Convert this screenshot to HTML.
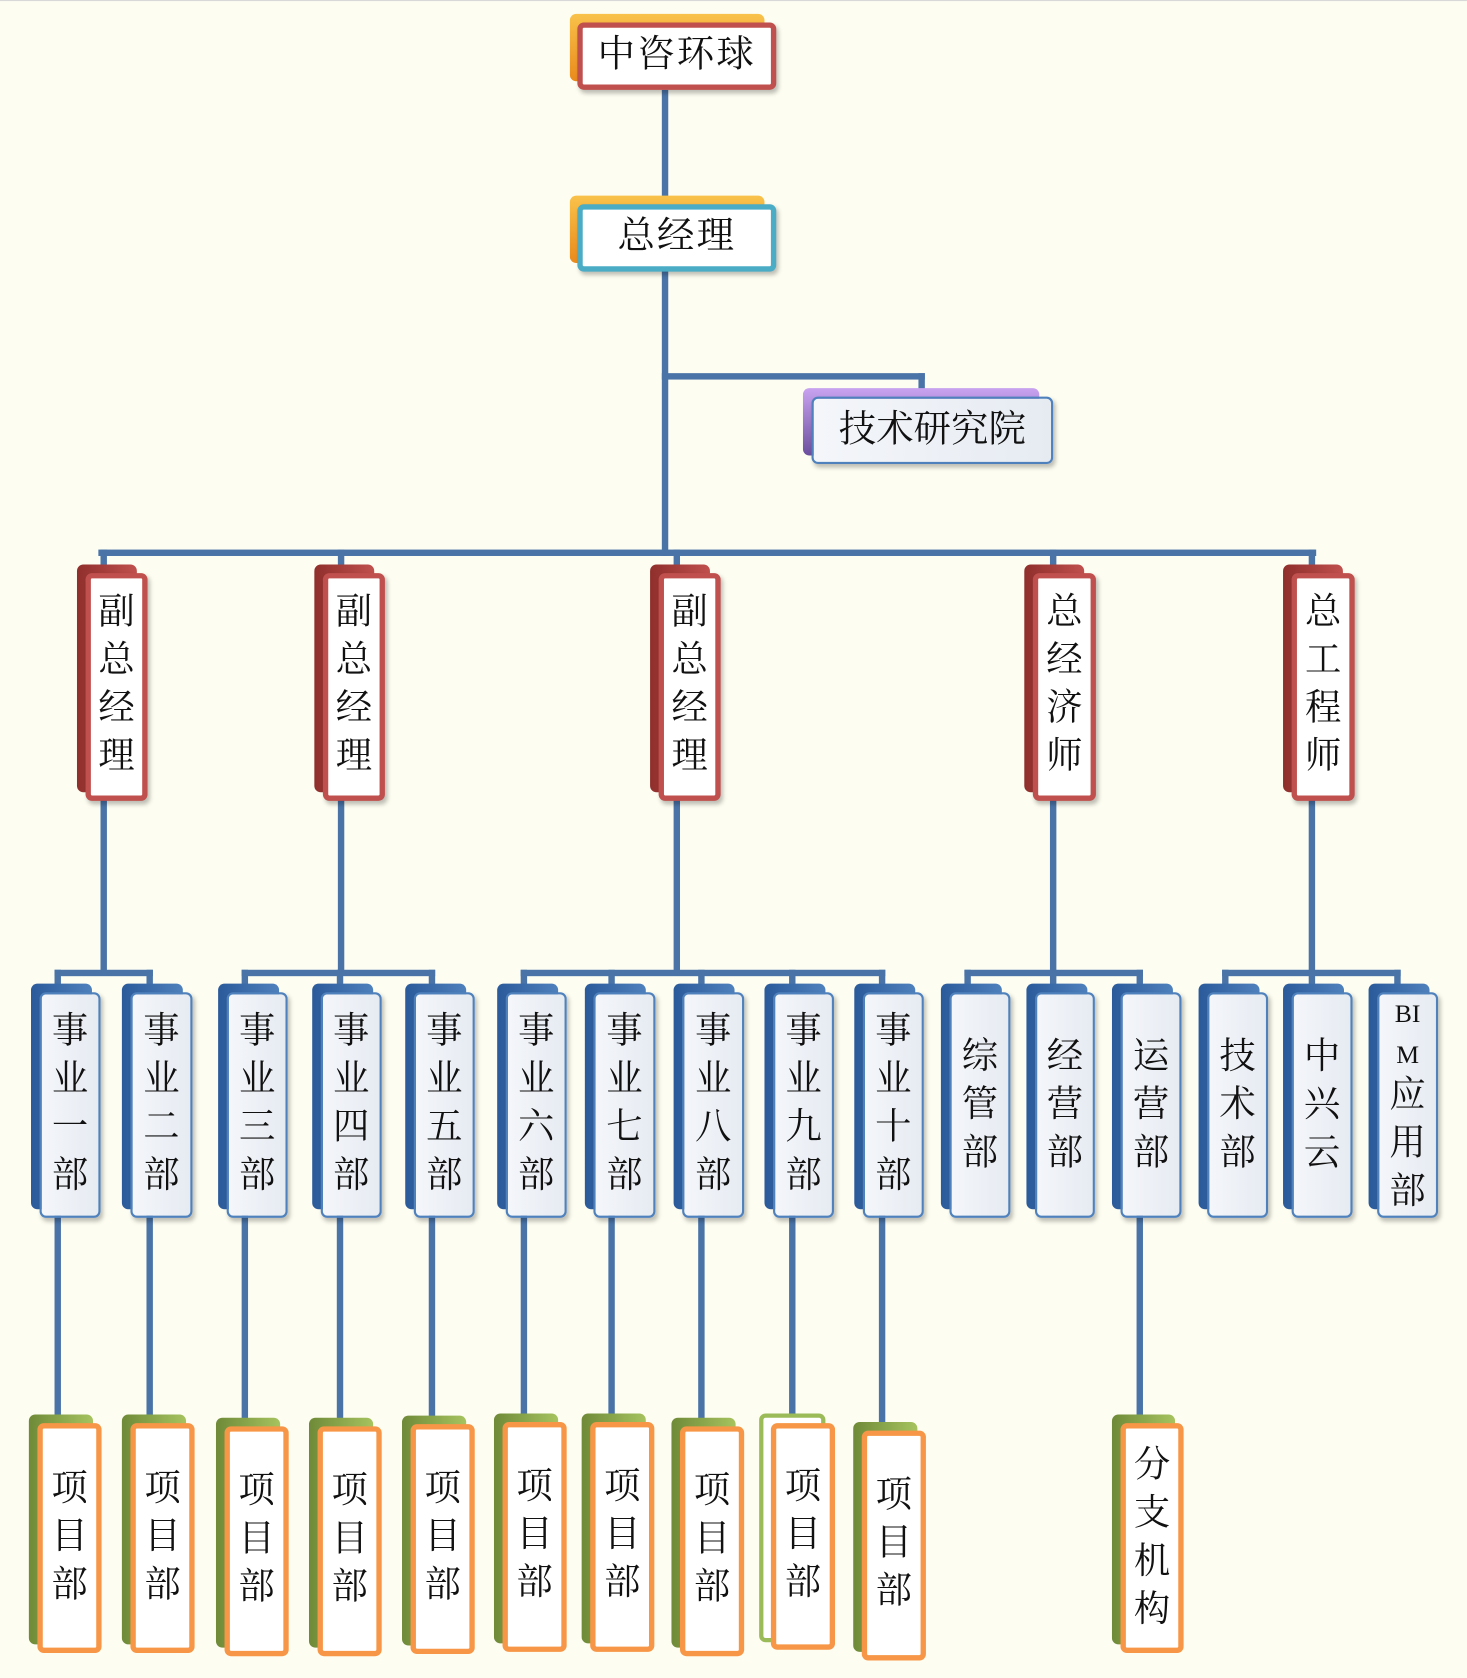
<!DOCTYPE html>
<html><head><meta charset="utf-8"><style>
html,body{margin:0;padding:0;background:#fdfdf1;}
#w{position:absolute;left:0;top:0;width:1372px;height:1568px;transform:scale(1.0692);transform-origin:0 0;background:#fdfdf1;border-top:1px solid #d8d8d8;font-family:"Liberation Serif","Noto Serif CJK SC",serif;color:#111;}
.l{position:absolute;background:#4a74a8;}
.s{position:absolute;background:#4a74a8;top:906px;width:6px;height:18px;}
.b{position:absolute;box-sizing:border-box;border-radius:6px;}
.t{position:absolute;text-align:center;line-height:45px;font-size:34px;}
.red{background:linear-gradient(90deg,#8f2f2c,#c0504d);}
.redf{background:#fff;border:5px solid #c0504d;box-shadow:2px 3px 4px rgba(0,0,0,.25);}
.blu{background:linear-gradient(90deg,#2b5a9a,#4f81bd);}
.bluf{background:linear-gradient(90deg,#f4f6fa,#e6ebf2);border:2px solid #4f81bd;box-shadow:2px 3px 4px rgba(0,0,0,.25);}
.grn{background:linear-gradient(90deg,#6f8a38,#a6c35f);}
.orf{background:#fff;border:5px solid #f79646;}
</style></head><body><div id="w">
<!-- connectors -->
<div class="l" style="left:619px;top:83px;width:6px;height:436px"></div>
<div class="l" style="left:619px;top:348px;width:246px;height:6px"></div>
<div class="l" style="left:859px;top:348px;width:6px;height:16px"></div>
<div class="l" style="left:92px;top:513px;width:1139px;height:6px"></div>
<div class="l" style="left:94px;top:513px;width:6px;height:16px"></div>
<div class="l" style="left:316px;top:513px;width:6px;height:16px"></div>
<div class="l" style="left:630px;top:513px;width:6px;height:16px"></div>
<div class="l" style="left:982px;top:513px;width:6px;height:16px"></div>
<div class="l" style="left:1224px;top:513px;width:6px;height:16px"></div>
<!-- L2 to bars -->
<div class="l" style="left:94px;top:745px;width:6px;height:166px"></div>
<div class="l" style="left:316px;top:745px;width:6px;height:166px"></div>
<div class="l" style="left:630px;top:745px;width:6px;height:166px"></div>
<div class="l" style="left:982px;top:745px;width:6px;height:166px"></div>
<div class="l" style="left:1224px;top:745px;width:6px;height:166px"></div>
<div class="l" style="left:51px;top:906px;width:92px;height:6px"></div>
<div class="l" style="left:226px;top:906px;width:181px;height:6px"></div>
<div class="l" style="left:487px;top:906px;width:341px;height:6px"></div>
<div class="l" style="left:902px;top:906px;width:167px;height:6px"></div>
<div class="l" style="left:1143px;top:906px;width:167px;height:6px"></div>
<!-- stubs -->
<div class="s" style="left:51px"></div><div class="s" style="left:137px"></div>
<div class="s" style="left:226px"></div><div class="s" style="left:315px"></div><div class="s" style="left:401px"></div>
<div class="s" style="left:487px"></div><div class="s" style="left:569px"></div><div class="s" style="left:653px"></div><div class="s" style="left:738px"></div><div class="s" style="left:822px"></div>
<div class="s" style="left:902px"></div><div class="s" style="left:982px"></div><div class="s" style="left:1063px"></div>
<div class="s" style="left:1143px"></div><div class="s" style="left:1224px"></div><div class="s" style="left:1304px"></div>
<!-- L3 to projects -->
<div class="l" style="left:51px;top:1130px;width:6px;height:200px"></div>
<div class="l" style="left:137px;top:1130px;width:6px;height:200px"></div>
<div class="l" style="left:226px;top:1130px;width:6px;height:200px"></div>
<div class="l" style="left:315px;top:1130px;width:6px;height:200px"></div>
<div class="l" style="left:401px;top:1130px;width:6px;height:200px"></div>
<div class="l" style="left:487px;top:1130px;width:6px;height:200px"></div>
<div class="l" style="left:569px;top:1130px;width:6px;height:200px"></div>
<div class="l" style="left:653px;top:1130px;width:6px;height:200px"></div>
<div class="l" style="left:738px;top:1130px;width:6px;height:200px"></div>
<div class="l" style="left:822px;top:1130px;width:6px;height:200px"></div>
<div class="l" style="left:1063px;top:1130px;width:6px;height:200px"></div>

<!-- top -->
<div class="b" style="left:533px;top:12px;width:182px;height:63px;background:linear-gradient(#f9c24a,#e98a1c)"></div>
<div class="b redf" style="left:540px;top:20px;width:186px;height:63px"></div>
<div class="t" style="left:540px;top:27px;width:186px;font-size:35px;letter-spacing:2px">中咨环球</div>
<div class="b" style="left:533px;top:182px;width:182px;height:63px;background:linear-gradient(#f9c24a,#e98a1c)"></div>
<div class="b" style="left:540px;top:190px;width:186px;height:63px;background:#fff;border:5px solid #4bacc6;box-shadow:2px 3px 4px rgba(0,0,0,.25)"></div>
<div class="t" style="left:540px;top:197px;width:186px;font-size:35px;letter-spacing:2px">总经理</div>
<div class="b" style="left:751px;top:362px;width:221px;height:63px;background:linear-gradient(#c9a3f0,#6b4f9e)"></div>
<div class="b bluf" style="left:759px;top:370px;width:226px;height:63px"></div>
<div class="t" style="left:759px;top:378px;width:226px;font-size:35px">技术研究院</div>

<!-- L2 -->
<div class="b red" style="left:72px;top:527px;width:56px;height:213px"></div>
<div class="b redf" style="left:80px;top:535px;width:58px;height:213px"></div>
<div class="t" style="left:80px;top:549px;width:58px">副<br>总<br>经<br>理</div>
<div class="b red" style="left:294px;top:527px;width:56px;height:213px"></div>
<div class="b redf" style="left:302px;top:535px;width:58px;height:213px"></div>
<div class="t" style="left:302px;top:549px;width:58px">副<br>总<br>经<br>理</div>
<div class="b red" style="left:608px;top:527px;width:56px;height:213px"></div>
<div class="b redf" style="left:616px;top:535px;width:58px;height:213px"></div>
<div class="t" style="left:616px;top:549px;width:58px">副<br>总<br>经<br>理</div>
<div class="b red" style="left:958px;top:527px;width:56px;height:213px"></div>
<div class="b redf" style="left:966px;top:535px;width:59px;height:213px"></div>
<div class="t" style="left:966px;top:549px;width:59px">总<br>经<br>济<br>师</div>
<div class="b red" style="left:1200px;top:527px;width:56px;height:213px"></div>
<div class="b redf" style="left:1208px;top:535px;width:59px;height:213px"></div>
<div class="t" style="left:1208px;top:549px;width:59px">总<br>工<br>程<br>师</div>

<!-- L3 -->
<div class="b blu" style="left:29px;top:919px;width:57px;height:211px"></div><div class="b bluf" style="left:37px;top:927px;width:57px;height:211px"></div><div class="t" style="left:37px;top:941px;width:57px">事<br>业<br>一<br>部</div>
<div class="b blu" style="left:114px;top:919px;width:57px;height:211px"></div><div class="b bluf" style="left:122px;top:927px;width:58px;height:211px"></div><div class="t" style="left:122px;top:941px;width:58px">事<br>业<br>二<br>部</div>
<div class="b blu" style="left:204px;top:919px;width:57px;height:211px"></div><div class="b bluf" style="left:212px;top:927px;width:57px;height:211px"></div><div class="t" style="left:212px;top:941px;width:57px">事<br>业<br>三<br>部</div>
<div class="b blu" style="left:292px;top:919px;width:57px;height:211px"></div><div class="b bluf" style="left:300px;top:927px;width:57px;height:211px"></div><div class="t" style="left:300px;top:941px;width:57px">事<br>业<br>四<br>部</div>
<div class="b blu" style="left:379px;top:919px;width:57px;height:211px"></div><div class="b bluf" style="left:387px;top:927px;width:57px;height:211px"></div><div class="t" style="left:387px;top:941px;width:57px">事<br>业<br>五<br>部</div>
<div class="b blu" style="left:465px;top:919px;width:57px;height:211px"></div><div class="b bluf" style="left:473px;top:927px;width:57px;height:211px"></div><div class="t" style="left:473px;top:941px;width:57px">事<br>业<br>六<br>部</div>
<div class="b blu" style="left:547px;top:919px;width:57px;height:211px"></div><div class="b bluf" style="left:555px;top:927px;width:58px;height:211px"></div><div class="t" style="left:555px;top:941px;width:58px">事<br>业<br>七<br>部</div>
<div class="b blu" style="left:630px;top:919px;width:57px;height:211px"></div><div class="b bluf" style="left:638px;top:927px;width:58px;height:211px"></div><div class="t" style="left:638px;top:941px;width:58px">事<br>业<br>八<br>部</div>
<div class="b blu" style="left:715px;top:919px;width:57px;height:211px"></div><div class="b bluf" style="left:723px;top:927px;width:57px;height:211px"></div><div class="t" style="left:723px;top:941px;width:57px">事<br>业<br>九<br>部</div>
<div class="b blu" style="left:799px;top:919px;width:57px;height:211px"></div><div class="b bluf" style="left:807px;top:927px;width:57px;height:211px"></div><div class="t" style="left:807px;top:941px;width:57px">事<br>业<br>十<br>部</div>
<div class="b blu" style="left:880px;top:919px;width:57px;height:211px"></div><div class="b bluf" style="left:888px;top:927px;width:57px;height:211px"></div><div class="t" style="left:888px;top:965px;width:57px">综<br>管<br>部</div>
<div class="b blu" style="left:960px;top:919px;width:57px;height:211px"></div><div class="b bluf" style="left:968px;top:927px;width:56px;height:211px"></div><div class="t" style="left:968px;top:965px;width:56px">经<br>营<br>部</div>
<div class="b blu" style="left:1040px;top:919px;width:57px;height:211px"></div><div class="b bluf" style="left:1048px;top:927px;width:57px;height:211px"></div><div class="t" style="left:1048px;top:965px;width:57px">运<br>营<br>部</div>
<div class="b blu" style="left:1121px;top:919px;width:57px;height:211px"></div><div class="b bluf" style="left:1129px;top:927px;width:57px;height:211px"></div><div class="t" style="left:1129px;top:965px;width:57px">技<br>术<br>部</div>
<div class="b blu" style="left:1200px;top:919px;width:57px;height:211px"></div><div class="b bluf" style="left:1208px;top:927px;width:57px;height:211px"></div><div class="t" style="left:1208px;top:965px;width:57px">中<br>兴<br>云</div>
<div class="b blu" style="left:1280px;top:919px;width:57px;height:211px"></div><div class="b bluf" style="left:1288px;top:927px;width:57px;height:211px"></div>
<div class="t" style="left:1288px;top:929px;width:57px;font-size:24px;line-height:38px">BI<br>M</div>
<div class="t" style="left:1288px;top:1001px;width:57px">应<br>用<br>部</div>

<!-- projects -->
<div class="b grn" style="left:27px;top:1322px;width:60px;height:215px"></div><div class="b orf" style="left:35px;top:1330px;width:60px;height:215px"></div><div class="t" style="left:35px;top:1369px;width:60px">项<br>目<br>部</div>
<div class="b grn" style="left:114px;top:1322px;width:60px;height:215px"></div><div class="b orf" style="left:122px;top:1330px;width:60px;height:215px"></div><div class="t" style="left:122px;top:1369px;width:60px">项<br>目<br>部</div>
<div class="b grn" style="left:202px;top:1325px;width:60px;height:215px"></div><div class="b orf" style="left:210px;top:1333px;width:60px;height:215px"></div><div class="t" style="left:210px;top:1371px;width:60px">项<br>目<br>部</div>
<div class="b grn" style="left:289px;top:1325px;width:60px;height:215px"></div><div class="b orf" style="left:297px;top:1333px;width:60px;height:215px"></div><div class="t" style="left:297px;top:1371px;width:60px">项<br>目<br>部</div>
<div class="b grn" style="left:376px;top:1323px;width:60px;height:215px"></div><div class="b orf" style="left:384px;top:1331px;width:60px;height:215px"></div><div class="t" style="left:384px;top:1369px;width:60px">项<br>目<br>部</div>
<div class="b grn" style="left:462px;top:1321px;width:60px;height:215px"></div><div class="b orf" style="left:470px;top:1329px;width:60px;height:215px"></div><div class="t" style="left:470px;top:1367px;width:60px">项<br>目<br>部</div>
<div class="b grn" style="left:544px;top:1321px;width:60px;height:215px"></div><div class="b orf" style="left:552px;top:1329px;width:60px;height:215px"></div><div class="t" style="left:552px;top:1367px;width:60px">项<br>目<br>部</div>
<div class="b grn" style="left:628px;top:1325px;width:60px;height:215px"></div><div class="b orf" style="left:636px;top:1333px;width:60px;height:215px"></div><div class="t" style="left:636px;top:1371px;width:60px">项<br>目<br>部</div>
<div class="b" style="left:710px;top:1321px;width:62px;height:214px;border:4px solid #9bbb59;background:#fff"></div><div class="b orf" style="left:721px;top:1330px;width:60px;height:212px"></div><div class="t" style="left:721px;top:1367px;width:60px">项<br>目<br>部</div>
<div class="b grn" style="left:798px;top:1329px;width:60px;height:215px"></div><div class="b orf" style="left:806px;top:1337px;width:60px;height:215px"></div><div class="t" style="left:806px;top:1375px;width:60px">项<br>目<br>部</div>
<div class="b grn" style="left:1040px;top:1322px;width:59px;height:215px"></div><div class="b orf" style="left:1048px;top:1330px;width:59px;height:215px"></div><div class="t" style="left:1048px;top:1347px;width:59px">分<br>支<br>机<br>构</div>
</div></body></html>
